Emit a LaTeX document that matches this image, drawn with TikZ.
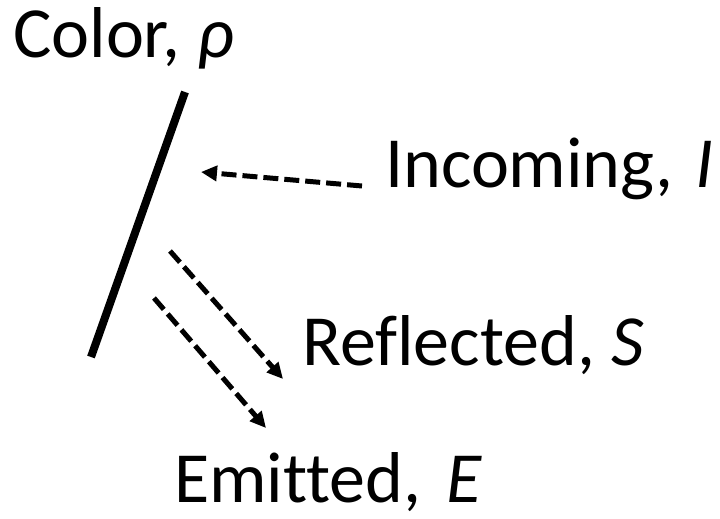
\documentclass[tikz,border=0pt]{standalone}
\usepackage{fontspec}
\setmainfont[Ligatures={NoCommon,NoContextual}]{Carlito}
\usetikzlibrary{arrows.meta}
\tikzset{
  lbl/.style={anchor=base west, inner sep=0pt, font=\fontsize{72}{76}\selectfont},
  ray/.style={line width=5pt, dash pattern=on 15pt off 6pt, -{Triangle[length=16pt,width=15pt]}},
  surface/.style={line width=8pt}
}
\begin{document}
\begin{tikzpicture}[x=1pt,y=-1pt]
\useasboundingbox (0,0) rectangle (720,519);
\node[lbl] (color) at (13,58) {Color, \textit{ρ}};
\node[lbl] (inc) at (385,187) {Incoming,\hspace{6pt} \textit{I}};
\node[lbl] (refl) at (302,365) {Reflected, \textit{S}};
\node[lbl] (emit) at (174,502) {Emitted,\hspace{9pt} \textit{E}};
\coordinate (stop) at (185,92);
\coordinate (sbot) at (91,357);
\draw[surface] (stop) -- (sbot);
\coordinate (i0) at (362,186);
\coordinate (i1) at (201,172);
\draw[ray] (i0) -- (i1);
\coordinate (r0) at (170,251);
\coordinate (r1) at (283,379);
\draw[ray] (r0) -- (r1);
\coordinate (e0) at (154,298);
\coordinate (e1) at (266,428);
\draw[ray] (e0) -- (e1);
\end{tikzpicture}
\end{document}
